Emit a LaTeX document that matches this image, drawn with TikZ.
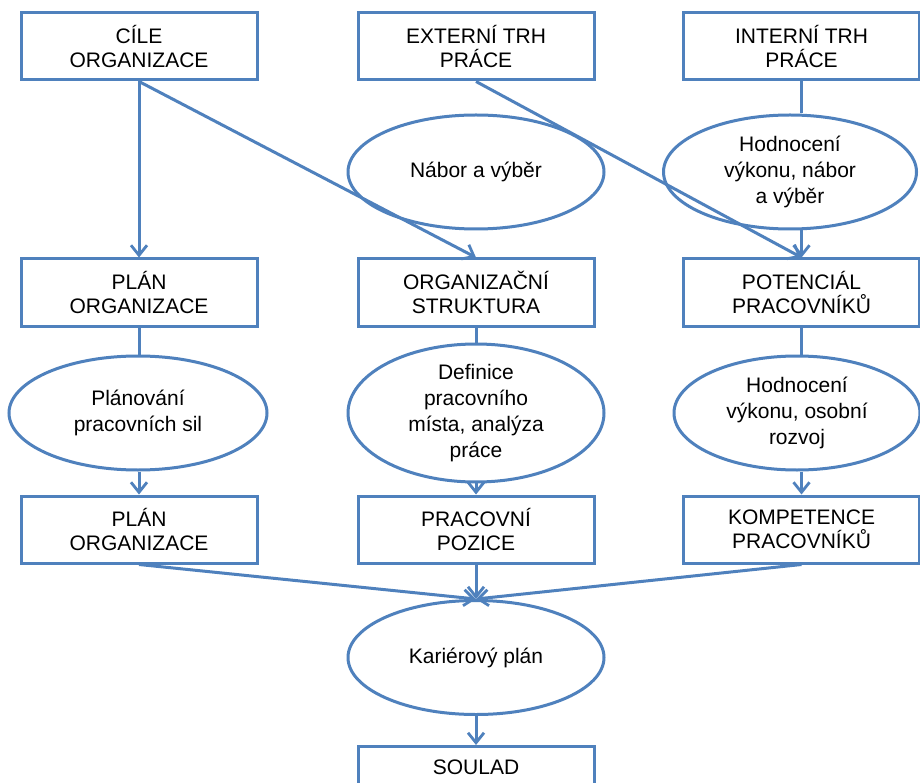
\documentclass[tikz,border=0pt]{standalone}
\usepackage{fontspec}
\setmainfont{Liberation Sans}
\usetikzlibrary{shapes.geometric,arrows.meta}
\definecolor{flowblue}{HTML}{4F81BD}
\tikzset{
  stagebox/.style={draw=flowblue, line width=3pt, fill=white, rectangle,
    minimum width=236pt, minimum height=67pt, inner sep=0pt,
    align=center, font=\fontsize{21}{24.5}\selectfont},
  activity/.style={draw=flowblue, line width=3pt, ellipse,
    minimum width=#1, minimum height=114pt, inner sep=0pt,
    align=center, font=\fontsize{21}{26}\selectfont},
  activity/.default=256pt,
  link/.style={draw=flowblue, line width=3pt},
  flow/.style={link, -{Straight Barb[length=10pt,width=16pt,line width=2.8pt]}}
}
\begin{document}
\begin{tikzpicture}[x=1pt,y=-1pt]
\useasboundingbox (0,0) rectangle (920,783);
\clip (0,0) rectangle (920,783);
\fill[white] (0,0) rectangle (920,783);

% top row: sources
\node[stagebox] (cile) at (139,46.5) {CÍLE\\ORGANIZACE};
\node[stagebox] (ext)  at (476,46.5) {EXTERNÍ TRH\\PRÁCE};
\node[stagebox] (int)  at (801.5,46.5) {INTERNÍ TRH\\PRÁCE};

% first row of activities
\node[activity] (nabor) at (476,172) {Nábor a výběr};
\node[activity=253pt] (hodn1) at (790,172) {Hodnocení\\výkonu, nábor\\a výběr};

% second row: intermediate results
\node[stagebox] (plan1) at (139,292.5) {PLÁN\\ORGANIZACE};
\node[stagebox] (struk) at (476,292.5) {ORGANIZAČNÍ\\STRUKTURA};
\node[stagebox] (pot)   at (801.5,292.5) {POTENCIÁL\\PRACOVNÍKŮ};

% second row of activities
\node[activity=258pt] (planov) at (138,413) {Plánování\\pracovních sil};
\node[activity] (defin) at (476,413) {Definice\\pracovního\\místa, analýza\\práce};
\node[activity=246pt] (hodn2) at (797,413) {Hodnocení\\výkonu, osobní\\rozvoj};

% third row: results
\node[stagebox] (plan2) at (139,529.5) {PLÁN\\ORGANIZACE};
\node[stagebox] (pozice) at (476,529.5) {PRACOVNÍ\\POZICE};
\node[stagebox] (komp)  at (801.5,529.5) {KOMPETENCE\\PRACOVNÍKŮ};

% career plan and final match (box continues below the frame)
\node[activity] (kariera) at (476,657.5) {Kariérový plán};
\node[stagebox, anchor=north] (soulad) at (476,745) {SOULAD\\\phantom{S}};

% connectors
\draw[flow] (cile.south) -- (plan1.north);
\draw[flow] (cile.south) -- (struk.north);
\draw[flow] (ext.south) -- (pot.north);
\draw[link] (int.south) -- (int.south |- hodn1.north);
\draw[flow] (hodn1.south -| pot.north) -- (pot.north);

\draw[link] (plan1.south) -- (plan1.south |- planov.north);
\draw[flow] (planov.south -| plan2.north) -- (plan2.north);
\draw[link] (struk.south) -- (defin.north);
\draw[flow] (defin.south) -- (pozice.north);
\draw[link] (pot.south) -- (pot.south |- hodn2.north);
\draw[flow] (hodn2.south -| komp.north) -- (komp.north);

\draw[flow] (plan2.south) -- (kariera.north);
\draw[flow] (pozice.south) -- (kariera.north);
\draw[flow] (komp.south) -- (kariera.north);
\draw[flow] (kariera.south) -- (soulad.north);
\end{tikzpicture}
\end{document}
